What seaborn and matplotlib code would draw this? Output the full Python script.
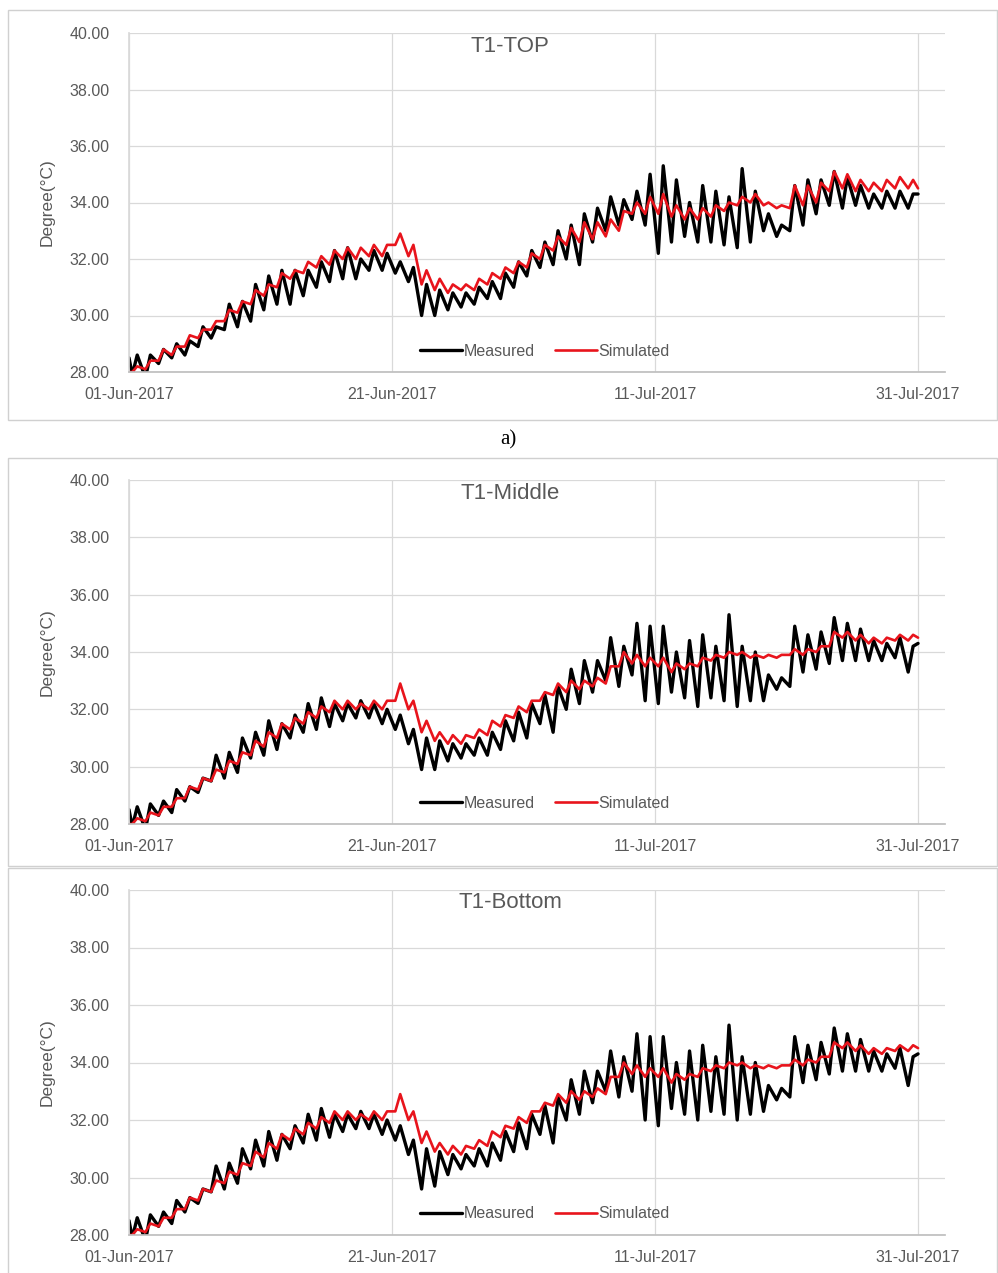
import numpy as np
import pandas as pd
import seaborn as sns
import matplotlib.pyplot as plt
import matplotlib.dates as mdates
from matplotlib.patches import Rectangle

# ----------- Data (daily min / max, 01-Jun .. 30-Jul) -----------

START_DATE = "2017-06-01"

# T1-TOP
top_meas_min = [27.9, 27.8, 28.3, 28.5, 28.6, 28.9, 29.2, 29.5, 29.6, 29.8,
                30.2, 30.4, 30.4, 30.7, 31.0, 31.2, 31.3, 31.3, 31.6, 31.6,
                31.5, 31.2, 30.0, 30.0, 30.2, 30.3, 30.4, 30.6, 30.6, 31.0,
                31.4, 31.7, 31.8, 32.0, 31.8, 32.6, 33.0, 33.2, 33.4, 33.2,
                32.2, 32.6, 32.8, 32.6, 32.6, 32.5, 32.4, 32.6, 33.0, 32.8,
                33.0, 33.2, 33.6, 33.9, 33.8, 33.9, 33.8, 33.8, 33.8, 33.8]
top_meas_max = [28.6, 28.6, 28.8, 29.0, 29.1, 29.6, 29.6, 30.4, 30.5, 31.1,
                31.4, 31.6, 31.6, 31.6, 31.9, 32.3, 32.4, 32.0, 32.3, 32.2,
                31.9, 31.7, 31.1, 30.9, 30.8, 30.8, 31.0, 31.2, 31.5, 31.9,
                32.3, 32.6, 33.0, 33.2, 33.6, 33.8, 34.2, 34.1, 34.4, 35.0,
                35.3, 34.8, 34.0, 34.6, 34.4, 34.2, 35.2, 34.4, 33.6, 33.2,
                34.6, 34.8, 34.8, 35.1, 34.9, 34.6, 34.3, 34.4, 34.4, 34.3]
top_sim_min = [28.0, 28.1, 28.4, 28.6, 28.9, 29.2, 29.5, 29.8, 30.1, 30.4,
               30.7, 31.0, 31.3, 31.5, 31.7, 31.8, 32.0, 32.0, 32.1, 32.1,
               32.5, 32.1, 31.1, 30.9, 30.8, 30.9, 30.9, 31.1, 31.3, 31.5,
               31.7, 32.0, 32.3, 32.5, 32.6, 32.7, 32.8, 33.0, 33.6, 33.6,
               33.6, 33.5, 33.4, 33.4, 33.5, 33.7, 33.9, 34.0, 33.9, 33.8,
               33.8, 33.9, 34.0, 34.4, 34.5, 34.4, 34.4, 34.4, 34.5, 34.5]
top_sim_max = [28.2, 28.4, 28.8, 28.9, 29.3, 29.5, 29.8, 30.2, 30.5, 30.9,
               31.1, 31.5, 31.6, 31.9, 32.1, 32.3, 32.4, 32.4, 32.5, 32.5,
               32.9, 32.5, 31.6, 31.3, 31.1, 31.1, 31.3, 31.5, 31.7, 31.9,
               32.2, 32.5, 32.8, 33.1, 33.3, 33.3, 33.4, 33.7, 34.0, 34.2,
               34.3, 33.9, 33.8, 33.8, 33.9, 34.0, 34.2, 34.3, 34.0, 33.9,
               34.6, 34.6, 34.7, 35.1, 35.0, 34.8, 34.7, 34.8, 34.9, 34.8]
top_ends = {"Measured": (28.5, 34.3), "Simulated": (28.0, 34.5)}

# T1-Middle
mid_meas_min = [27.9, 27.8, 28.3, 28.4, 28.8, 29.1, 29.5, 29.6, 29.8, 30.3,
                30.4, 30.6, 31.0, 31.2, 31.3, 31.4, 31.6, 31.7, 31.7, 31.5,
                31.3, 30.8, 29.9, 29.9, 30.2, 30.3, 30.4, 30.4, 30.6, 30.9,
                31.0, 31.5, 31.2, 32.0, 32.2, 32.6, 33.0, 32.8, 33.2, 32.3,
                32.2, 32.6, 32.4, 32.1, 32.4, 32.3, 32.1, 32.3, 32.3, 32.7,
                32.8, 33.3, 33.4, 33.6, 33.7, 33.7, 33.7, 33.7, 33.8, 33.3]
mid_meas_max = [28.6, 28.7, 28.8, 29.2, 29.3, 29.6, 30.4, 30.5, 31.0, 31.2,
                31.6, 31.5, 31.8, 32.2, 32.4, 32.2, 32.2, 32.3, 32.2, 32.0,
                31.8, 31.3, 31.0, 30.9, 30.8, 30.8, 31.0, 31.2, 31.6, 31.9,
                32.2, 32.5, 32.8, 33.4, 33.7, 33.7, 34.5, 34.2, 35.0, 34.9,
                34.9, 34.0, 34.4, 34.6, 34.2, 35.3, 34.2, 34.0, 33.2, 33.1,
                34.9, 34.6, 34.7, 35.2, 35.0, 34.8, 34.4, 34.3, 34.5, 34.2]
mid_sim_min = [28.0, 28.1, 28.3, 28.6, 28.9, 29.2, 29.5, 29.8, 30.1, 30.4,
               30.7, 31.0, 31.3, 31.5, 31.7, 31.9, 32.0, 32.0, 32.0, 32.0,
               32.3, 32.0, 31.2, 30.9, 30.8, 30.8, 31.0, 31.1, 31.4, 31.7,
               31.9, 32.3, 32.5, 32.6, 32.7, 32.8, 32.9, 33.5, 33.6, 33.5,
               33.5, 33.3, 33.4, 33.5, 33.7, 33.8, 33.9, 33.8, 33.8, 33.8,
               33.9, 33.9, 34.0, 34.2, 34.5, 34.4, 34.3, 34.3, 34.4, 34.4]
mid_sim_max = [28.2, 28.4, 28.6, 28.9, 29.3, 29.6, 29.9, 30.2, 30.5, 30.9,
               31.2, 31.5, 31.7, 31.9, 32.1, 32.3, 32.3, 32.2, 32.3, 32.3,
               32.9, 32.3, 31.6, 31.2, 31.1, 31.1, 31.3, 31.6, 31.8, 32.1,
               32.3, 32.6, 32.9, 33.0, 33.0, 33.1, 33.5, 34.0, 33.9, 33.8,
               33.8, 33.6, 33.6, 33.8, 33.9, 34.0, 34.0, 33.9, 33.9, 33.9,
               34.1, 34.1, 34.2, 34.7, 34.7, 34.6, 34.5, 34.5, 34.6, 34.6]
mid_ends = {"Measured": (28.5, 34.3), "Simulated": (28.0, 34.5)}

# T1-Bottom
bot_meas_min = [27.9, 27.8, 28.3, 28.4, 28.8, 29.1, 29.5, 29.6, 29.8, 30.3,
                30.4, 30.6, 31.0, 31.2, 31.3, 31.4, 31.6, 31.7, 31.7, 31.5,
                31.3, 30.8, 29.6, 29.7, 30.1, 30.3, 30.4, 30.4, 30.6, 30.9,
                31.0, 31.5, 31.2, 32.0, 32.2, 32.6, 33.0, 32.8, 33.0, 32.0,
                31.8, 32.4, 32.2, 32.0, 32.3, 32.2, 32.0, 32.2, 32.3, 32.7,
                32.8, 33.3, 33.4, 33.6, 33.7, 33.7, 33.7, 33.7, 33.8, 33.2]
bot_meas_max = [28.6, 28.7, 28.8, 29.2, 29.3, 29.6, 30.4, 30.5, 31.0, 31.3,
                31.6, 31.5, 31.8, 32.2, 32.4, 32.2, 32.2, 32.3, 32.2, 32.0,
                31.8, 31.3, 31.0, 30.9, 30.8, 30.8, 31.0, 31.2, 31.6, 31.9,
                32.2, 32.5, 32.8, 33.4, 33.7, 33.7, 34.4, 34.2, 35.0, 34.9,
                34.9, 34.0, 34.4, 34.6, 34.2, 35.3, 34.2, 34.0, 33.2, 33.1,
                34.9, 34.6, 34.7, 35.2, 35.0, 34.8, 34.4, 34.3, 34.5, 34.2]
bot_sim_min = [28.0, 28.1, 28.3, 28.6, 28.9, 29.2, 29.5, 29.8, 30.1, 30.4,
               30.7, 31.0, 31.3, 31.5, 31.7, 31.9, 32.0, 32.0, 32.0, 32.0,
               32.3, 32.0, 31.2, 30.9, 30.8, 30.8, 31.0, 31.1, 31.4, 31.7,
               31.9, 32.3, 32.5, 32.6, 32.7, 32.8, 32.9, 33.5, 33.6, 33.5,
               33.5, 33.3, 33.4, 33.5, 33.7, 33.8, 33.9, 33.8, 33.8, 33.8,
               33.9, 33.9, 34.0, 34.2, 34.5, 34.4, 34.3, 34.3, 34.4, 34.4]
bot_sim_max = [28.2, 28.4, 28.6, 28.9, 29.3, 29.6, 29.9, 30.2, 30.5, 30.9,
               31.2, 31.5, 31.7, 31.9, 32.1, 32.3, 32.3, 32.2, 32.3, 32.3,
               32.9, 32.3, 31.6, 31.2, 31.1, 31.1, 31.3, 31.6, 31.8, 32.1,
               32.3, 32.6, 32.9, 33.0, 33.0, 33.1, 33.5, 34.0, 33.9, 33.8,
               33.8, 33.6, 33.6, 33.8, 33.9, 34.0, 34.0, 33.9, 33.9, 33.9,
               34.1, 34.1, 34.2, 34.7, 34.7, 34.6, 34.5, 34.5, 34.6, 34.6]
bot_ends = {"Measured": (28.5, 34.3), "Simulated": (28.0, 34.5)}

panel_titles = ["T1-TOP", "T1-Middle", "T1-Bottom"]
x_tick_dates = ["2017-06-01", "2017-06-21", "2017-07-11", "2017-07-31"]
y_ticks = [28, 30, 32, 34, 36, 38, 40]

# ----------- Helpers -----------

W, H = 998, 1273


def series_frame(mins, maxs, ends, name):
    t0 = pd.Timestamp(START_DATE)
    times = [t0]
    vals = [ends[0]]
    for d, (lo, hi) in enumerate(zip(mins, maxs)):
        times += [t0 + pd.Timedelta(days=d, hours=6), t0 + pd.Timedelta(days=d, hours=15)]
        vals += [lo, hi]
    times.append(t0 + pd.Timedelta(days=len(mins)))
    vals.append(ends[1])
    return pd.DataFrame({"time": times, "temp": vals, "series": name})


def px_rect(x0, y0, x1, y1):
    return [x0 / W, 1 - y1 / H, (x1 - x0) / W, (y1 - y0) / H]


panels = [
    (top_meas_min, top_meas_max, top_sim_min, top_sim_max, top_ends),
    (mid_meas_min, mid_meas_max, mid_sim_min, mid_sim_max, mid_ends),
    (bot_meas_min, bot_meas_max, bot_sim_min, bot_sim_max, bot_ends),
]

# axes boxes in pixels (left, top, right, bottom) and chart borders
axes_px = [(129, 33, 945, 372), (129, 480, 945, 824), (129, 890, 945, 1235)]
border_px = [(8, 10, 997, 420), (8, 458, 997, 866), (8, 868, 997, 1280)]

# ----------- Plot -----------

sns.set_theme(style="white")
plt.rcParams["font.family"] = ["Liberation Sans", "DejaVu Sans"]

fig = plt.figure(figsize=(W / 100, H / 100), dpi=100)
grey_txt = "#595959"
grid_col = "#d9d9d9"

for (bx0, by0, bx1, by1) in border_px:
    fig.patches.append(Rectangle((bx0 / W, 1 - by1 / H), (bx1 - bx0) / W, (by1 - by0) / H,
                                 transform=fig.transFigure, fill=False,
                                 edgecolor="#d0d0d0", linewidth=1.0))

xmin = pd.Timestamp("2017-06-01")
xmax = pd.Timestamp("2017-07-31") + pd.Timedelta(days=2.05)

for i, (mmin, mmax, smin, smax, ends) in enumerate(panels):
    x0, y0, x1, y1 = axes_px[i]
    ax = fig.add_axes(px_rect(x0, y0, x1, y1))
    df = pd.concat([
        series_frame(mmin, mmax, ends["Measured"], "Measured"),
        series_frame(smin, smax, ends["Simulated"], "Simulated"),
    ], ignore_index=True)

    sns.lineplot(data=df[df.series == "Measured"], x="time", y="temp", ax=ax,
                 color="black", linewidth=2.4, label="Measured")
    sns.lineplot(data=df[df.series == "Simulated"], x="time", y="temp", ax=ax,
                 color="#e8141c", linewidth=1.9, label="Simulated")

    ax.set_xlim(xmin, xmax)
    ax.set_ylim(28, 40)
    ax.set_yticks(y_ticks)
    ax.set_yticklabels([f"{v:.2f}" for v in y_ticks])
    ax.set_xticks(pd.to_datetime(x_tick_dates))
    ax.xaxis.set_major_formatter(mdates.DateFormatter("%d-%b-%Y"))

    ax.grid(True, color=grid_col, linewidth=0.9)
    ax.set_axisbelow(True)
    for s in ["top", "right"]:
        ax.spines[s].set_visible(False)
    ax.spines["left"].set_color(grid_col)
    ax.spines["bottom"].set_color("#bfbfbf")
    ax.tick_params(axis="both", length=0, labelsize=11.5, labelcolor=grey_txt)
    ax.tick_params(axis="y", pad=14)
    ax.tick_params(axis="x", pad=11)

    ax.set_xlabel("")
    ax.set_ylabel("Degree(°C)", fontsize=12.5, color=grey_txt)
    ax.yaxis.set_label_coords(-0.091, 0.5)

    ax.text(0.467, 1 - 13 / (y1 - y0), panel_titles[i], transform=ax.transAxes,
            ha="center", va="center", fontsize=16, color=grey_txt)

    ax.legend(loc="center", bbox_to_anchor=(0.51, 21 / (y1 - y0)), ncol=2,
              frameon=False, fontsize=11.5, handlelength=2.6, handletextpad=0.1,
              columnspacing=1.3, labelcolor=grey_txt)

fig.text(508 / W, 1 - 440 / H, "a)", ha="center", va="center", fontsize=15,
         family="Liberation Serif", color="black")

fig.savefig("out.png", dpi=100)
plt.close(fig)
